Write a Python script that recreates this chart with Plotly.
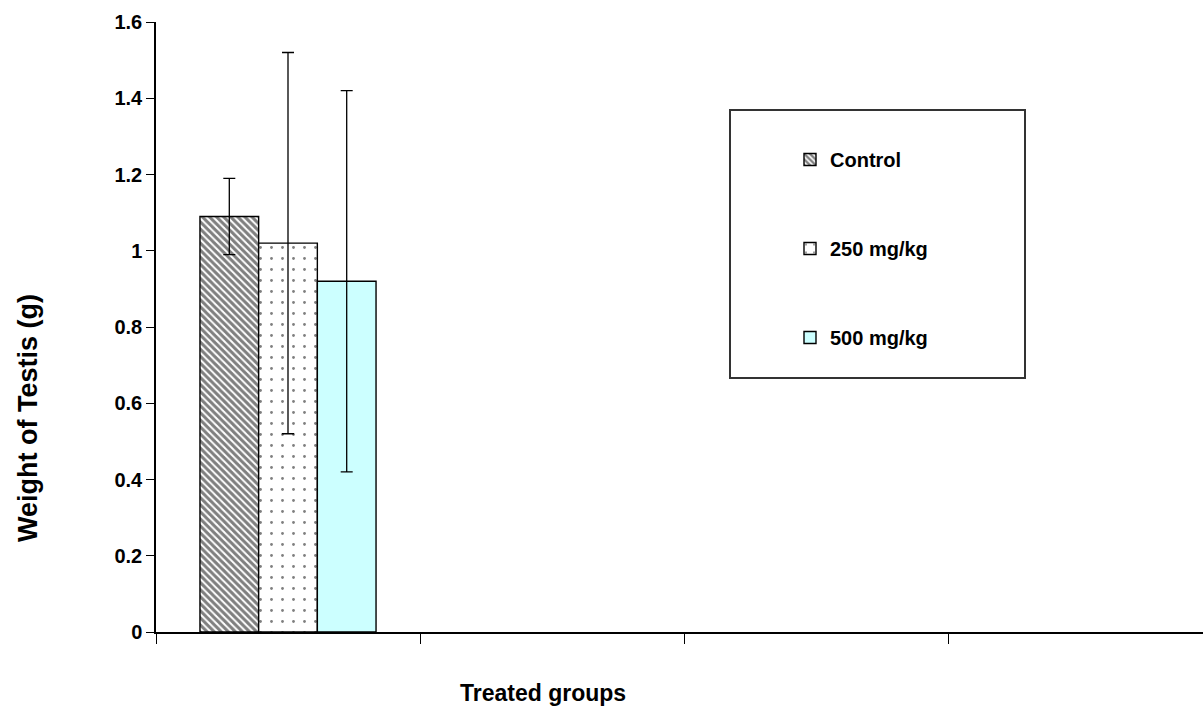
import plotly.graph_objects as go

# Data
groups = ["Control", "250 mg/kg", "500 mg/kg"]
x_pos = [0]  # only first category slot holds data
means = [1.09, 1.02, 0.92]
errors = [0.10, 0.50, 0.50]
y_ticks = [0, 0.2, 0.4, 0.6, 0.8, 1.0, 1.2, 1.4, 1.6]
y_tick_text = ["0", "0.2", "0.4", "0.6", "0.8", "1", "1.2", "1.4", "1.6"]

fills = ["white", "white", "#CCFFFF"]
patterns = [
    dict(shape="\\", fgcolor="black", bgcolor="white", size=5, solidity=0.6),
    dict(shape=".", fgcolor="black", bgcolor="white", size=11, solidity=0.05),
    dict(shape=""),
]

FONT = "Liberation Sans, Arial, sans-serif"

fig = go.Figure()
for i, g in enumerate(groups):
    fig.add_trace(go.Bar(
        x=x_pos, y=[means[i]], name=g,
        marker=dict(color=fills[i], line=dict(color="black", width=1.4), pattern=patterns[i]),
        error_y=dict(type="data", array=[errors[i]], color="black", thickness=1.3, width=6),
        legendgroup=g,
    ))

W, H = 1203, 711
L, T, B = 156, 22, 79
slot = 264
plot_w = W - L
plot_h = H - T - B
x_range = [-0.5, -0.5 + plot_w / slot]


def px_x(p):
    return (p - L) / plot_w


def px_y(p):
    return (H - B - p) / plot_h


fig.update_layout(
    width=W, height=H,
    margin=dict(l=L, r=0, t=T, b=B),
    plot_bgcolor="white", paper_bgcolor="white",
    barmode="group", bargap=0.333, bargroupgap=0,
    font=dict(family=FONT, color="black"),
    xaxis=dict(range=x_range, showgrid=False, zeroline=False, showline=True, linecolor="black",
               linewidth=1.5, ticks="outside", ticklen=10, tickwidth=1.3, tickcolor="black",
               tickvals=[-0.5, 0.5, 1.5, 2.5, 3.5], ticktext=["", "", "", "", ""]),
    yaxis=dict(range=[0, 1.6], showgrid=False, zeroline=False, showline=True, linecolor="black",
               linewidth=1.5, ticks="outside", ticklen=8, tickwidth=1.3, tickcolor="black",
               tickvals=y_ticks, ticktext=y_tick_text,
               tickfont=dict(family=FONT, size=20, color="black", weight="bold")),
    showlegend=True,
    legend=dict(x=px_x(790), y=px_y(140), xanchor="left", yanchor="top",
                bgcolor="rgba(0,0,0,0)", borderwidth=0, traceorder="grouped", tracegroupgap=60,
                font=dict(family=FONT, size=20, color="black", weight="bold"),
                itemwidth=30),
    shapes=[dict(type="rect", xref="paper", yref="paper",
                 x0=px_x(730), x1=px_x(1025), y0=px_y(378), y1=px_y(110),
                 line=dict(color="#333333", width=2), fillcolor="white", layer="below")],
    annotations=[
        dict(text="Weight of Testis (g)", xref="paper", yref="paper", x=px_x(28),
             y=px_y(418), xanchor="center", yanchor="middle", textangle=-90, showarrow=False,
             font=dict(family=FONT, size=27, color="black", weight="bold")),
        dict(text="Treated groups", xref="paper", yref="paper", x=px_x(543),
             y=px_y(693), xanchor="center", yanchor="middle", showarrow=False,
             font=dict(family=FONT, size=23, color="black", weight="bold")),
    ],
)

fig.write_html("out.html", config={"displayModeBar": False},
               post_script="document.body.style.margin='0';document.body.style.overflow='hidden';")
